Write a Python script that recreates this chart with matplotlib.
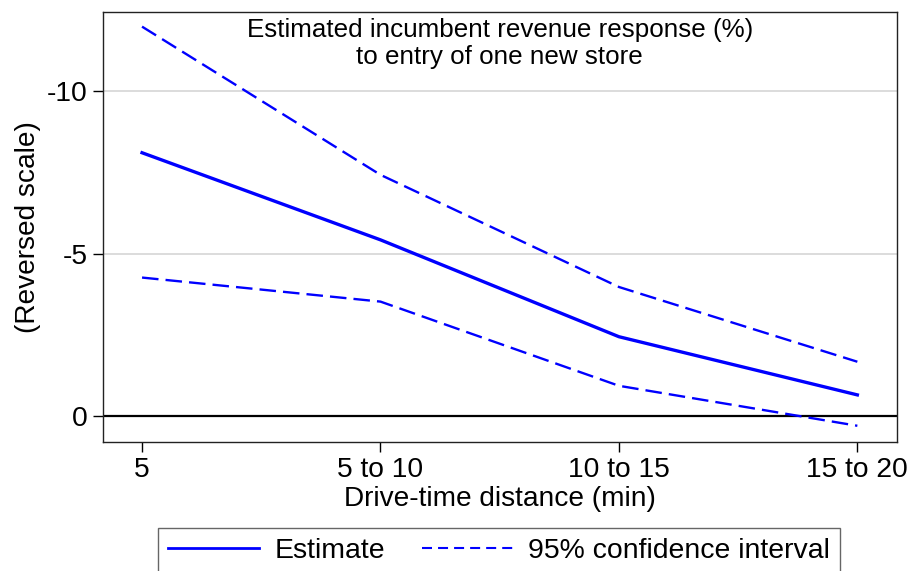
import numpy as np
import matplotlib
matplotlib.use("Agg")
import matplotlib.pyplot as plt
from matplotlib.lines import Line2D

plt.rcParams["font.family"] = ["Liberation Sans", "DejaVu Sans"]

# data
categories = ["5", "5 to 10", "10 to 15", "15 to 20"]
estimate = [-8.10, -5.42, -2.44, -0.65]
ci_upper = [-11.98, -7.42, -3.97, -1.67]
ci_lower = [-4.26, -3.52, -0.93, 0.30]
yticks = [0, -5, -10]

W, H = 910, 571
fig = plt.figure(figsize=(W / 100, H / 100), dpi=100)
left, right, top, bottom = 102.7, 896.7, 12, 441.7
ax = fig.add_axes([left / W, 1 - bottom / H, (right - left) / W, (bottom - top) / H])

x = np.arange(len(categories))
blue = "#0000ff"

for yv in [-5, -10]:
    ax.axhline(yv, color="#dcdcdc", lw=1.4, zorder=1)
ax.axhline(0, color="black", lw=1.6, zorder=2)

ax.plot(x, estimate, color=blue, lw=2.4, zorder=3)
ax.plot(x, ci_upper, color=blue, lw=1.7, dashes=(7, 3), zorder=3)
ax.plot(x, ci_lower, color=blue, lw=1.7, dashes=(7, 3), zorder=3)

ax.set_xlim(-0.165, 3.165)
ax.set_ylim(0.79, -12.43)

ax.set_xticks(x)
ax.set_xticklabels(categories, fontsize=20.3)
ax.set_yticks(yticks)
ax.set_yticklabels([str(v) for v in yticks], fontsize=20.3)
ax.tick_params(axis="both", direction="out", length=7, width=1, pad=4)

for s in ax.spines.values():
    s.set_color("#222222")
    s.set_linewidth(1.0)

ax.set_xlabel("Drive-time distance (min)", fontsize=20.2, labelpad=2)
ax.set_ylabel("(Reversed scale)", fontsize=20.2, labelpad=4)

ax.text(0.5, 0.985, "Estimated incumbent revenue response (%)\nto entry of one new store",
        transform=ax.transAxes, ha="center", va="top", fontsize=18.7, linespacing=1.15)

# legend uses shorter dashes than the plot, like the original
handles = [Line2D([], [], color=blue, lw=2.0),
           Line2D([], [], color=blue, lw=1.5, dashes=(4.8, 2.9))]
labels = ["Estimate", "95% confidence interval"]
leg = fig.legend(handles, labels, loc="upper center", bbox_to_anchor=(0.5487, 1 - 528.3 / H),
                 ncol=2, fontsize=20.4, frameon=True, fancybox=False, edgecolor="#666666",
                 framealpha=1, handlelength=3.2, handletextpad=0.55, columnspacing=1.3,
                 borderpad=0.35, borderaxespad=0)
leg.get_frame().set_linewidth(1.0)

fig.savefig("out.png", dpi=100)
